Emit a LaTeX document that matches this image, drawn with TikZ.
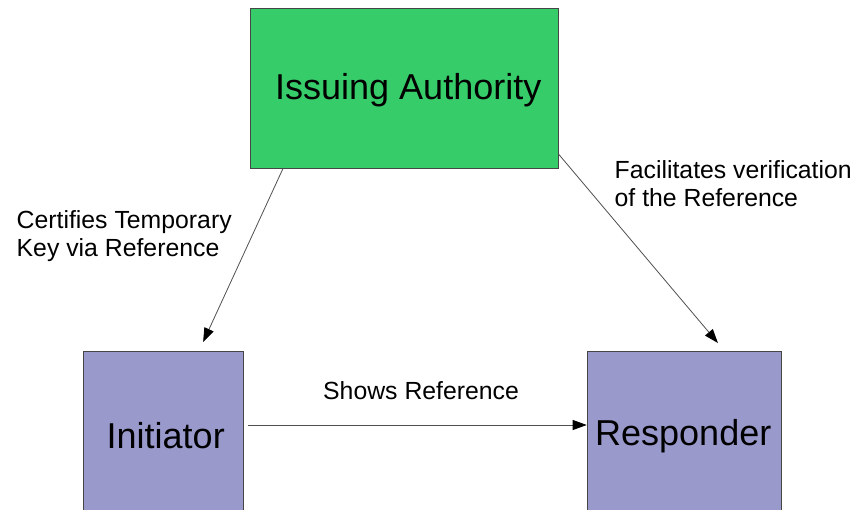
\documentclass[tikz,border=0pt]{standalone}
\usepackage{fontspec}
\setmainfont{Liberation Sans}
\usetikzlibrary{arrows.meta}
\definecolor{authgreen}{RGB}{54,204,106}
\definecolor{partyblue}{RGB}{153,153,204}
\definecolor{edgegray}{RGB}{70,70,70}
\definecolor{wiregray}{RGB}{80,80,80}
\tikzset{
  boxstyle/.style={draw=edgegray, line width=1pt, rectangle, inner sep=0pt, anchor=north west},
  bigtext/.style={anchor=base west, inner sep=0pt, font=\fontsize{36pt}{40pt}\selectfont},
  smalltext/.style={anchor=base west, inner sep=0pt, font=\fontsize{24.8pt}{27.7pt}\selectfont, align=left},
  flow/.style={draw=wiregray, line width=0.8pt, -{Triangle[length=14pt,width=10pt,fill=black,color=black]}},
}
\begin{document}
\begin{tikzpicture}[x=1pt,y=-1pt]
  \useasboundingbox (0,0) rectangle (856,509);
  \clip (0,0) rectangle (856,509);
  \fill[white] (0,0) rectangle (856,509);

  % the three parties
  \node[boxstyle, fill=authgreen, minimum width=307.5pt, minimum height=159.5pt] (ia) at (250,8) {};
  \node[boxstyle, fill=partyblue, minimum width=160.3pt, minimum height=170pt] (ini) at (83,351) {};
  \node[boxstyle, fill=partyblue, minimum width=194.3pt, minimum height=170pt] (resp) at (586.7,351) {};

  % box captions
  \node[bigtext] (iatext) at (275,99.3) {Issuing Authority};
  \node[bigtext] (initext) at (106.5,448.3) {Initiator};
  \node[bigtext] (resptext) at (595,445) {Responder};

  % connectors
  \draw[flow, shorten >=9.9pt] ([xshift=33pt]ia.south west) -- ([xshift=116pt]ini.north west);
  \draw[flow, shorten >=10.5pt] ([yshift=14.5pt]ia.south east) -- ([xshift=138pt]resp.north west);
  \draw[flow] ([xshift=3.5pt,yshift=11.5pt]ini.east) -- ([yshift=11.5pt]resp.west);

  % connector labels (base anchor sits on the last line)
  \node[smalltext] (certlabel) at (16.5,256.5) {Certifies Temporary\\Key via Reference};
  \node[smalltext] (faclabel) at (614.5,206.5) {Facilitates verification\\of the Reference};
  \node[smalltext] (showlabel) at (323,399.3) {Shows Reference};
\end{tikzpicture}
\end{document}
